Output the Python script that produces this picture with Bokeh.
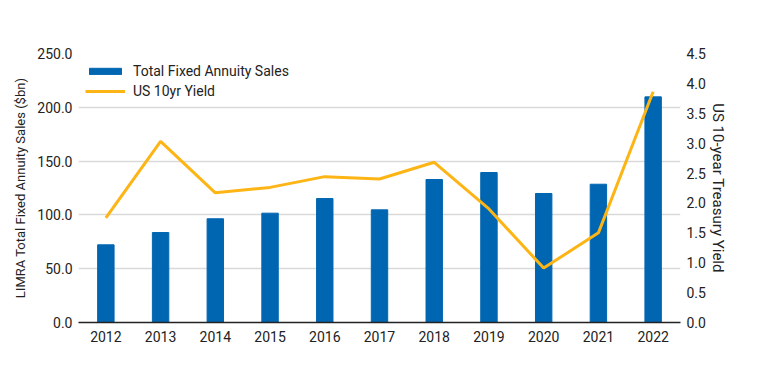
from bokeh.plotting import figure
from bokeh.models import Range1d, LinearAxis, FixedTicker, NumeralTickFormatter, FactorRange, Legend, LegendItem
from bokeh.embed import file_html
from bokeh.resources import INLINE

years = ["2012", "2013", "2014", "2015", "2016", "2017", "2018", "2019", "2020", "2021", "2022"]
sales = [72.2, 83.6, 96.4, 101.6, 115.2, 104.7, 132.9, 139.4, 119.9, 128.5, 209.7]
yield10 = [1.75, 3.03, 2.17, 2.26, 2.44, 2.40, 2.68, 1.90, 0.91, 1.50, 3.86]
left_ticks = [0, 50, 100, 150, 200, 250]
right_ticks = [0, 0.5, 1.0, 1.5, 2.0, 2.5, 3.0, 3.5, 4.0, 4.5]

FONT = "Roboto"
BAR = "#0066B2"
LINE = "#FDB515"

p = figure(width=745, height=366, x_range=FactorRange(*years, range_padding=0),
           y_range=Range1d(0, 250), output_backend="svg", toolbar_location=None,
           min_border_left=78, min_border_right=65, min_border_top=53, min_border_bottom=44)
p.outline_line_color = None
p.extra_y_ranges = {"yld": Range1d(0, 4.5)}

bars = p.vbar(x=years, top=sales, width=0.3, color=BAR)
ln = p.line(x=years, y=yield10, y_range_name="yld", line_color=LINE, line_width=3)

p.xgrid.grid_line_color = None
p.ygrid.grid_line_color = "#D9D9D9"
p.ygrid.grid_line_width = 1.5
p.ygrid.ticker = FixedTicker(ticks=left_ticks)

yl = p.yaxis[0]
yl.ticker = FixedTicker(ticks=left_ticks)
yl.formatter = NumeralTickFormatter(format="0.0")
yl.axis_label = "LIMRA Total Fixed Annuity Sales ($bn)"

yr = LinearAxis(y_range_name="yld", ticker=FixedTicker(ticks=right_ticks),
                formatter=NumeralTickFormatter(format="0.0"),
                axis_label="US 10-year Treasury Yield")
p.add_layout(yr, "right")

for ax in [yl, yr]:
    ax.axis_line_color = None
    ax.major_tick_line_color = None
    ax.minor_tick_line_color = None
    ax.major_tick_in = 0
    ax.major_tick_out = 0
    ax.major_label_standoff = 6
    ax.major_label_text_font = FONT
    ax.major_label_text_font_size = "14px"
    ax.major_label_text_color = "#222222"
    ax.axis_label_text_font = FONT
    ax.axis_label_text_font_style = "normal"
    ax.axis_label_text_color = "#222222"
yl.axis_label_standoff = 6
yl.axis_label_text_font_size = "13px"
yr.axis_label_standoff = 0
yr.axis_label_text_font_size = "15px"

xa = p.xaxis[0]
xa.axis_line_color = "#222222"
xa.axis_line_width = 1.5
xa.major_tick_line_color = None
xa.major_tick_in = 0
xa.major_tick_out = 0
xa.major_label_standoff = 8
xa.major_label_text_font = FONT
xa.major_label_text_font_size = "14px"
xa.major_label_text_color = "#222222"

legend = Legend(items=[LegendItem(label="Total Fixed Annuity Sales", renderers=[bars]),
                       LegendItem(label="US 10yr Yield", renderers=[ln])],
                location=(7, 221), border_line_color=None, background_fill_alpha=0,
                margin=0, padding=0, spacing=0, glyph_width=40, glyph_height=8,
                label_standoff=8, label_height=20, label_text_font=FONT,
                label_text_font_size="14px", label_text_color="#222222")
p.add_layout(legend)

open("out.html", "w").write(file_html(p, INLINE))
